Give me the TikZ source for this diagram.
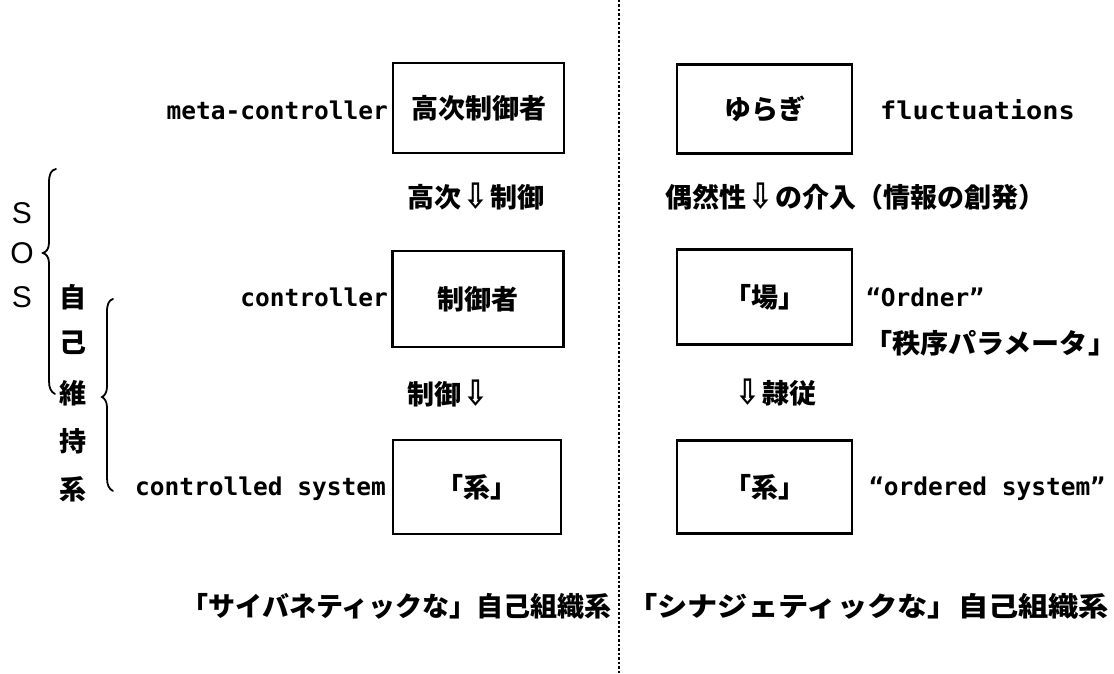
\documentclass[tikz,border=0pt]{standalone}
\usepackage{fontspec}
\newfontfamily\jp{Noto Sans CJK JP}
\newfontfamily\mono{DejaVu Sans Mono}
\newfontfamily\arr{DejaVu Sans}
\newfontfamily\sos{Liberation Sans}
\newcommand{\dn}{\hspace{2pt}\raisebox{-1pt}{\scalebox{1.1}[1.3]{\arr\bfseries ⇩}}\hspace{2pt}}
\begin{document}
\begin{tikzpicture}[x=1pt,y=-1pt,
  jtext/.style={inner sep=0pt,font=\jp\bfseries\fontsize{27}{27}\selectfont},
  etext/.style={inner sep=0pt,font=\mono\bfseries\fontsize{24.5}{24.5}\selectfont},
  box/.style={draw,line width=2.5pt,inner sep=0pt,font=\jp\bfseries\fontsize{27}{27}\selectfont},
  sostext/.style={inner sep=0pt,font=\sos\fontsize{30}{30}\selectfont},
  brace/.style={line width=1.8pt,line cap=round},
  divider/.style={line width=2.5pt,dash pattern=on 2.5pt off 2pt}]
\useasboundingbox (0,0) rectangle (1114,674);
% divider
\coordinate (dtop) at (619,0);
\coordinate (dbot) at (619,674);
\draw[divider] (dtop) -- (dbot);
% left boxes
\node[box,minimum width=171pt,minimum height=90pt] (b1) at (478.5,108) {高次制御者};
\node[box,minimum width=171pt,minimum height=96pt] (b2) at (478,299) {制御者};
\node[box,minimum width=168pt,minimum height=94pt] (b3) at (477,487) {「系」};
% right boxes
\node[box,minimum width=175pt,minimum height=89pt] (r1) at (764.5,109) {ゆらぎ};
\node[box,minimum width=175pt,minimum height=95pt] (r2) at (764.5,297) {「場」};
\node[box,minimum width=175pt,minimum height=93pt] (r3) at (764.5,487) {「系」};
% left labels
\node[etext,anchor=east] (l1) at (388,110) {meta-controller};
\node[etext,anchor=east] (l2) at (388,297) {controller};
\node[etext,anchor=east] (l3) at (386,489) {controlled system};
% right labels
\node[etext,anchor=west] (f1) at (880,110) {\scalebox{1.1}[1]{fluctuations}};
\node[etext,anchor=west] (f2) at (866,297) {“Ordner”};
\node[jtext,anchor=west] (f2b) at (864,343) {\scalebox{1.04}[1]{「秩序パラメータ」}};
\node[etext,anchor=west] (f3) at (869,489) {“ordered system”};
% between labels
\node[jtext,anchor=west] (m1) at (407,197) {高次\dn 制御};
\node[jtext,anchor=west] (m2) at (665,197) {偶然性\dn の介入（情報の創発）};
\node[jtext,anchor=west] (m3) at (407,393) {制御\dn};
\node[jtext,anchor=west] (m4) at (733,393) {\dn 隷従};
% bottom
\node[jtext,anchor=east] (c1) at (612,606) {「サイバネティックな」自己組織系};
\node[jtext,anchor=west] (c2) at (627,606) {\scalebox{1.12}[1]{「シナジェティックな」自己組織系}};
% SOS
\node[sostext] (s1) at (22,213) {S};
\node[sostext] (s2) at (22,253) {O};
\node[sostext] (s3) at (22,297) {S};
% 自己維持系
\node[jtext] (k1) at (73,297) {自};
\node[jtext] (k2) at (73,343) {己};
\node[jtext] (k3) at (73,393) {維};
\node[jtext] (k4) at (73,441) {持};
\node[jtext] (k5) at (73,489) {系};
% braces
\draw[brace] (56,169) .. controls (51,170) and (49,174) .. (49,183) -- (49,243)
  .. controls (49,249) and (46,252) .. (43,253) .. controls (46,254) and (49,257) .. (49,263)
  -- (49,381) .. controls (49,388) and (51,392) .. (55,394);
\draw[brace] (113,299) .. controls (109,300) and (107,304) .. (107,312) -- (107,387)
  .. controls (107,393) and (104,396) .. (102,397) .. controls (104,398) and (107,401) .. (107,407)
  -- (107,478) .. controls (107,485) and (109,489) .. (113,491);
\end{tikzpicture}
\end{document}
